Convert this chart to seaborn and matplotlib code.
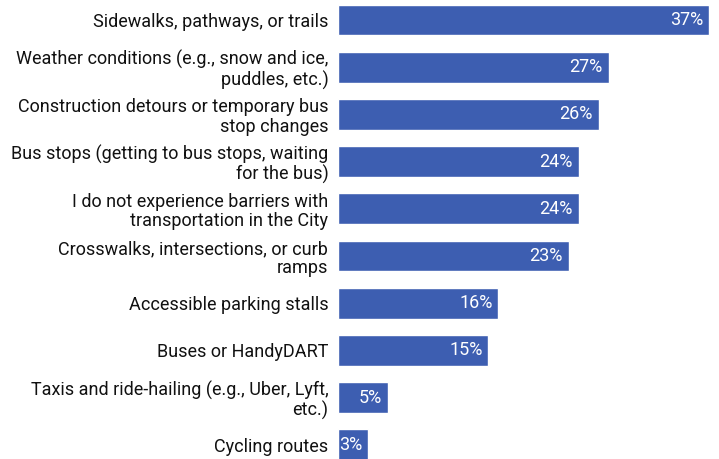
import pandas as pd
import matplotlib.pyplot as plt
import seaborn as sns

# Barrier categories and share of respondents (%)
categories = [
    "Sidewalks, pathways, or trails",
    "Weather conditions (e.g., snow and ice,\npuddles, etc.)",
    "Construction detours or temporary bus\nstop changes",
    "Bus stops (getting to bus stops, waiting\nfor the bus)",
    "I do not experience barriers with\ntransportation in the City",
    "Crosswalks, intersections, or curb\nramps",
    "Accessible parking stalls",
    "Buses or HandyDART",
    "Taxis and ride-hailing (e.g., Uber, Lyft,\netc.)",
    "Cycling routes",
]
values = [37, 27, 26, 24, 24, 23, 16, 15, 5, 3]

df = pd.DataFrame({"category": categories, "pct": values})

sns.set_style("white")
plt.rcParams['font.family'] = ['Roboto', 'DejaVu Sans']

fig = plt.figure(figsize=(7.19, 4.59), dpi=100)
ax = fig.add_axes([338 / 719, 0, 381 / 719, 1])

bar_col = "#3d5eb1"
sns.barplot(data=df, x="pct", y="category", orient="h", color=bar_col,
            width=0.65, saturation=1, ax=ax)

ax.set_xlim(0, 38)
ax.set_ylim(9.3, -0.424)
ax.set_xlabel("")
ax.set_ylabel("")
ax.set_xticks([])
ax.tick_params(axis="y", length=0, pad=7, labelsize=13, labelcolor="#111111")
for lbl in ax.get_yticklabels():
    lbl.set_horizontalalignment("right")
    lbl.set_linespacing(1.08)
sns.despine(ax=ax, left=True, bottom=True)

# value labels inside the bar ends
for i, v in enumerate(values):
    ax.text(v - 0.6, i, f"{v}%", color="white", fontsize=13,
            ha="right", va="center")

fig.savefig("out.png", dpi=100)
